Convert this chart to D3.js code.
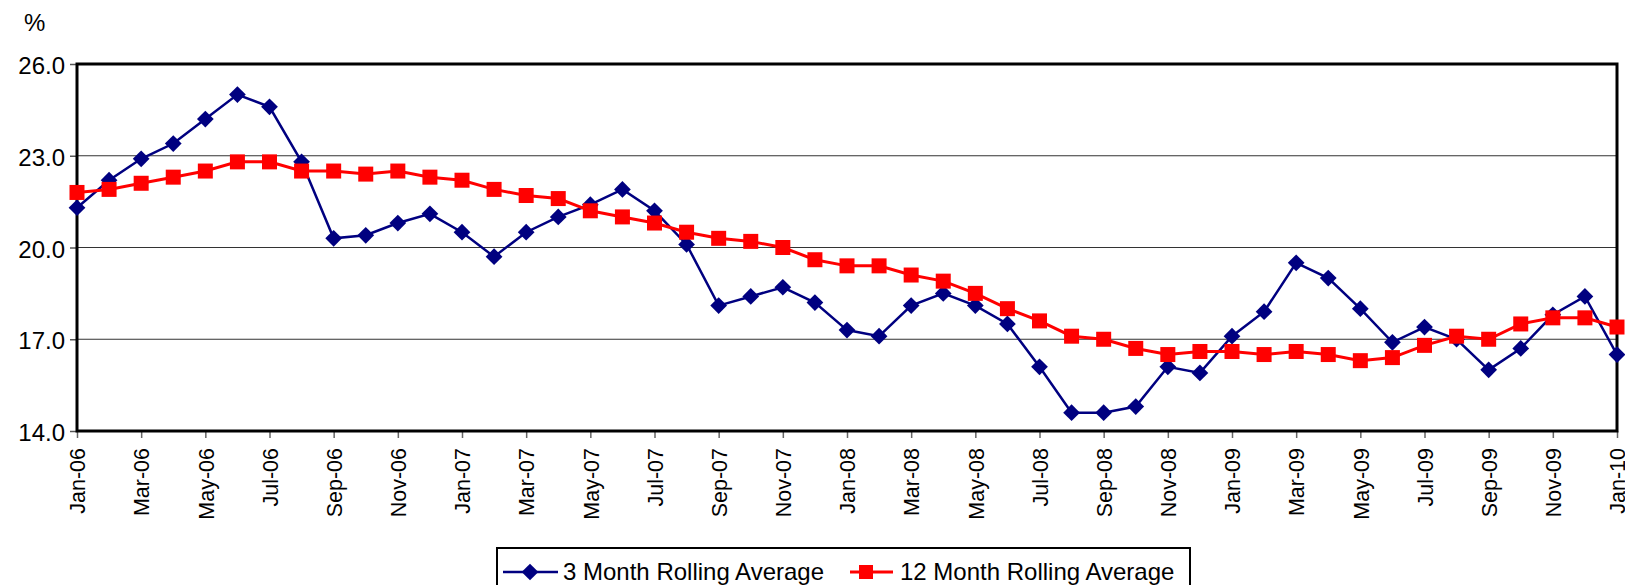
<!DOCTYPE html>
<html>
<head>
<meta charset="utf-8">
<script src="https://cdn.jsdelivr.net/npm/d3@7"></script>
<style>
    body { margin: 0; background: #fff; }
    svg { display: block; font-family: "Liberation Sans", Arial, sans-serif; }
</style>
</head>
<body>
<svg id="rollingChart"></svg>
<script>
var months = [
    "Jan-06", "Feb-06", "Mar-06", "Apr-06", "May-06", "Jun-06", "Jul-06", "Aug-06", "Sep-06", "Oct-06", "Nov-06", "Dec-06",
    "Jan-07", "Feb-07", "Mar-07", "Apr-07", "May-07", "Jun-07", "Jul-07", "Aug-07", "Sep-07", "Oct-07", "Nov-07", "Dec-07",
    "Jan-08", "Feb-08", "Mar-08", "Apr-08", "May-08", "Jun-08", "Jul-08", "Aug-08", "Sep-08", "Oct-08", "Nov-08", "Dec-08",
    "Jan-09", "Feb-09", "Mar-09", "Apr-09", "May-09", "Jun-09", "Jul-09", "Aug-09", "Sep-09", "Oct-09", "Nov-09", "Dec-09",
    "Jan-10"
];

var threeMonth = [
    21.3, 22.2, 22.9, 23.4, 24.2, 25.0, 24.6, 22.8, 20.3, 20.4, 20.8, 21.1,
    20.5, 19.7, 20.5, 21.0, 21.4, 21.9, 21.2, 20.1, 18.1, 18.4, 18.7, 18.2,
    17.3, 17.1, 18.1, 18.5, 18.1, 17.5, 16.1, 14.6, 14.6, 14.8, 16.1, 15.9,
    17.1, 17.9, 19.5, 19.0, 18.0, 16.9, 17.4, 17.0, 16.0, 16.7, 17.8, 18.4,
    16.5
];

var twelveMonth = [
    21.8, 21.9, 22.1, 22.3, 22.5, 22.8, 22.8, 22.5, 22.5, 22.4, 22.5, 22.3,
    22.2, 21.9, 21.7, 21.6, 21.2, 21.0, 20.8, 20.5, 20.3, 20.2, 20.0, 19.6,
    19.4, 19.4, 19.1, 18.9, 18.5, 18.0, 17.6, 17.1, 17.0, 16.7, 16.5, 16.6,
    16.6, 16.5, 16.6, 16.5, 16.3, 16.4, 16.8, 17.1, 17.0, 17.5, 17.7, 17.7,
    17.4
];

var yTicks = [14, 17, 20, 23, 26];
var seriesNames = ["3 Month Rolling Average", "12 Month Rolling Average"];

var margin = { top: 64, right: 8, bottom: 154, left: 77 };
var width = 1625 - margin.left - margin.right;
var height = 585 - margin.top - margin.bottom;

var svg = d3.select("#rollingChart")
    .attr("width", 1625)
    .attr("height", 585);

var g = svg.append("g")
    .attr("transform", "translate(" + margin.left + "," + margin.top + ")");

var xScale = d3.scalePoint()
    .domain(months)
    .range([0, width]);

var yScale = d3.scaleLinear()
    .domain([14, 26])
    .range([height, 0]);

// gridlines
g.selectAll(".grid")
    .data(yTicks.slice(1, -1))
    .enter().append("line")
    .attr("x1", 0)
    .attr("x2", width)
    .attr("y1", function (d) { return yScale(d); })
    .attr("y2", function (d) { return yScale(d); })
    .attr("stroke", "#333")
    .attr("stroke-width", 1.2);

// Y axis
var yAxis = g.append("g")
    .call(d3.axisLeft(yScale).tickValues(yTicks).tickFormat(d3.format(".1f")).tickSize(7).tickPadding(5));
yAxis.select(".domain").remove();
yAxis.selectAll("line").attr("stroke", "#555").attr("stroke-width", 1.5);
yAxis.selectAll("text")
    .attr("fill", "#000")
    .attr("dy", "0.4em")
    .style("font-size", "24px");

// X axis
var xAxis = g.append("g")
    .attr("transform", "translate(0," + height + ")")
    .call(d3.axisBottom(xScale)
        .tickValues(months.filter(function (d, i) { return i % 2 === 0; }))
        .tickSize(7));
xAxis.select(".domain").remove();
xAxis.selectAll("line").attr("stroke", "#666").attr("stroke-width", 1.5);
xAxis.selectAll("text")
    .attr("fill", "#000")
    .style("font-size", "21.5px")
    .style("text-anchor", "end")
    .attr("transform", "rotate(-90)")
    .attr("x", -17)
    .attr("y", 0)
    .attr("dy", "0.36em");

// plot frame
g.append("rect")
    .attr("x", 0)
    .attr("y", 0)
    .attr("width", width)
    .attr("height", height)
    .attr("fill", "none")
    .attr("stroke", "#000")
    .attr("stroke-width", 3);

// % label
svg.append("text")
    .attr("x", 24)
    .attr("y", 31)
    .style("font-size", "24px")
    .text("%");

var line = d3.line()
    .x(function (d, i) { return xScale(months[i]); })
    .y(function (d) { return yScale(d); });

var diamond = d3.symbol().type(d3.symbolSquare).size(140);

// 3 month series
g.append("path")
    .datum(threeMonth)
    .attr("fill", "none")
    .attr("stroke", "#000080")
    .attr("stroke-width", 2.5)
    .attr("d", line);

g.selectAll(".diamond")
    .data(threeMonth)
    .enter().append("path")
    .attr("class", "diamond")
    .attr("d", diamond)
    .attr("fill", "#000080")
    .attr("transform", function (d, i) {
        return "translate(" + xScale(months[i]) + "," + yScale(d) + ") rotate(45)";
    });

// 12 month series
g.append("path")
    .datum(twelveMonth)
    .attr("fill", "none")
    .attr("stroke", "#ff0000")
    .attr("stroke-width", 3)
    .attr("d", line);

g.selectAll(".square")
    .data(twelveMonth)
    .enter().append("rect")
    .attr("class", "square")
    .attr("x", function (d, i) { return xScale(months[i]) - 7.5; })
    .attr("y", function (d) { return yScale(d) - 7.5; })
    .attr("width", 15)
    .attr("height", 15)
    .attr("fill", "#ff0000");

// Legend
var legend = svg.append("g").attr("transform", "translate(497,548)");

legend.append("rect")
    .attr("x", 0)
    .attr("y", 0)
    .attr("width", 693)
    .attr("height", 50)
    .attr("fill", "#fff")
    .attr("stroke", "#000")
    .attr("stroke-width", 2);

var item1 = legend.append("g").attr("transform", "translate(6,24)");
item1.append("line")
    .attr("x1", 0).attr("x2", 55).attr("y1", 0).attr("y2", 0)
    .attr("stroke", "#000080").attr("stroke-width", 2.5);
item1.append("path")
    .attr("d", diamond)
    .attr("fill", "#000080")
    .attr("transform", "translate(27,0) rotate(45)");
item1.append("text")
    .attr("x", 60).attr("y", 0).attr("dy", "0.35em")
    .style("font-size", "24px")
    .text(seriesNames[0]);

var item2 = legend.append("g").attr("transform", "translate(353,24)");
item2.append("line")
    .attr("x1", 0).attr("x2", 43).attr("y1", 0).attr("y2", 0)
    .attr("stroke", "#ff0000").attr("stroke-width", 3);
item2.append("rect")
    .attr("x", 9).attr("y", -7).attr("width", 14).attr("height", 14)
    .attr("fill", "#ff0000");
item2.append("text")
    .attr("x", 50).attr("y", 0).attr("dy", "0.35em")
    .style("font-size", "24px")
    .text(seriesNames[1]);
</script>
</body>
</html>
